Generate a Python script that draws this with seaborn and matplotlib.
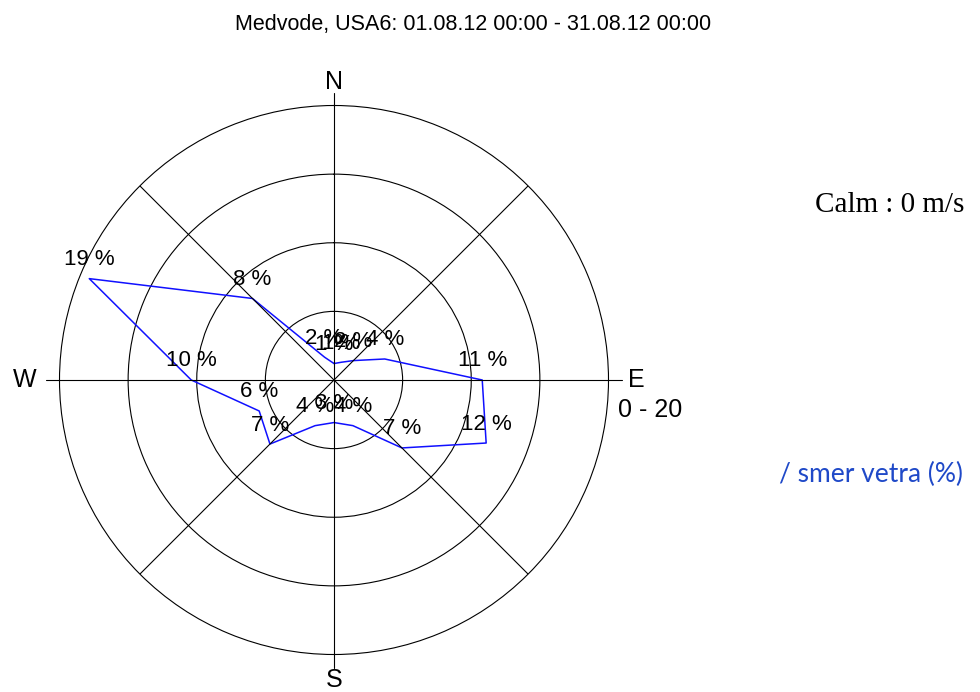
import numpy as np
import pandas as pd
import matplotlib
import matplotlib.pyplot as plt
import seaborn as sns

sns.set_style("white")
matplotlib.rcParams["font.family"] = ["Liberation Sans", "DejaVu Sans"]
matplotlib.rcParams["text.color"] = "black"

# wind direction frequencies (%), clockwise from N
directions = ["N", "NNE", "NE", "ENE", "E", "ESE", "SE", "SSE",
              "S", "SSW", "SW", "WSW", "W", "WNW", "NW", "NNW"]
percent = [1.2, 1.4, 2.0, 4.0, 10.8, 12.0, 7.0, 3.6,
           3.1, 3.6, 6.6, 5.9, 10.4, 19.3, 8.4, 1.8]
rings = [5, 10, 15]
r_max = 20

title = "Medvode, USA6: 01.08.12 00:00 - 31.08.12 00:00"

W, H = 980, 692
fig = plt.figure(figsize=(W / 100, H / 100), dpi=100)
cx, cy, R = 334, 380, 274.5
ax = fig.add_axes([(cx - R) / W, (H - cy - R) / H, 2 * R / W, 2 * R / H],
                  projection="polar")

theta = np.deg2rad(np.arange(len(directions)) * 22.5)
df = pd.DataFrame({"theta": np.append(theta, theta[0] + 2 * np.pi),
                   "pct": percent + percent[:1]})
sns.lineplot(data=df, x="theta", y="pct", sort=False, color="#1010ff",
             lw=1.1, ax=ax)

ax.set_theta_zero_location("N")
ax.set_theta_direction(-1)
ax.set_ylim(0, r_max)
ax.set_rgrids(rings)
ax.set_yticklabels([])
ax.set_xticks([])
ax.set_xlabel("")
ax.set_ylabel("")
ax.yaxis.grid(True, color="black", lw=0.8)
ax.spines["polar"].set_color("black")
ax.spines["polar"].set_linewidth(0.8)

# spokes: diagonals stop at the rim, main axes stick out a bit
for a in [45, 135, 225, 315]:
    ax.plot([np.deg2rad(a)] * 2, [0, r_max], color="black", lw=0.8)
for a in [0, 90, 180, 270]:
    ax.plot([np.deg2rad(a)] * 2, [0, r_max * 287.5 / R], color="black",
            lw=0.8, clip_on=False)

for t, v in zip(theta, percent):
    ax.annotate(f"{round(v)} %", (t, v), xytext=(0, 13.7),
                textcoords="offset points", ha="center", va="center",
                fontsize=16, color="black")

px = r_max / R
ax.text(0, 298 * px, "N", ha="center", va="center", fontsize=18, clip_on=False)
ax.text(np.pi / 2, 302 * px, "E", ha="center", va="center", fontsize=18, clip_on=False)
ax.text(np.pi, 300 * px, "S", ha="center", va="center", fontsize=18, clip_on=False)
ax.text(3 * np.pi / 2, 309 * px, "W", ha="center", va="center", fontsize=18, clip_on=False)

fig.text(650 / W, 1 - 410 / H, f"0 - {r_max}", ha="center", va="center", fontsize=18)
fig.text(473 / W, 1 - 30 / H, title, ha="center", va="baseline", fontsize=15.5)
fig.text(890 / W, 1 - 212 / H, "Calm : 0 m/s", ha="center", va="baseline",
         fontsize=21, family=["Liberation Serif", "DejaVu Serif"])
fig.text(871 / W, 1 - 474 / H, "/ smer vetra (%)", ha="center", va="center",
         fontsize=19, color="#1f49c8", family=["Lato", "DejaVu Sans"])

fig.savefig("out.png", dpi=100, facecolor="white")
